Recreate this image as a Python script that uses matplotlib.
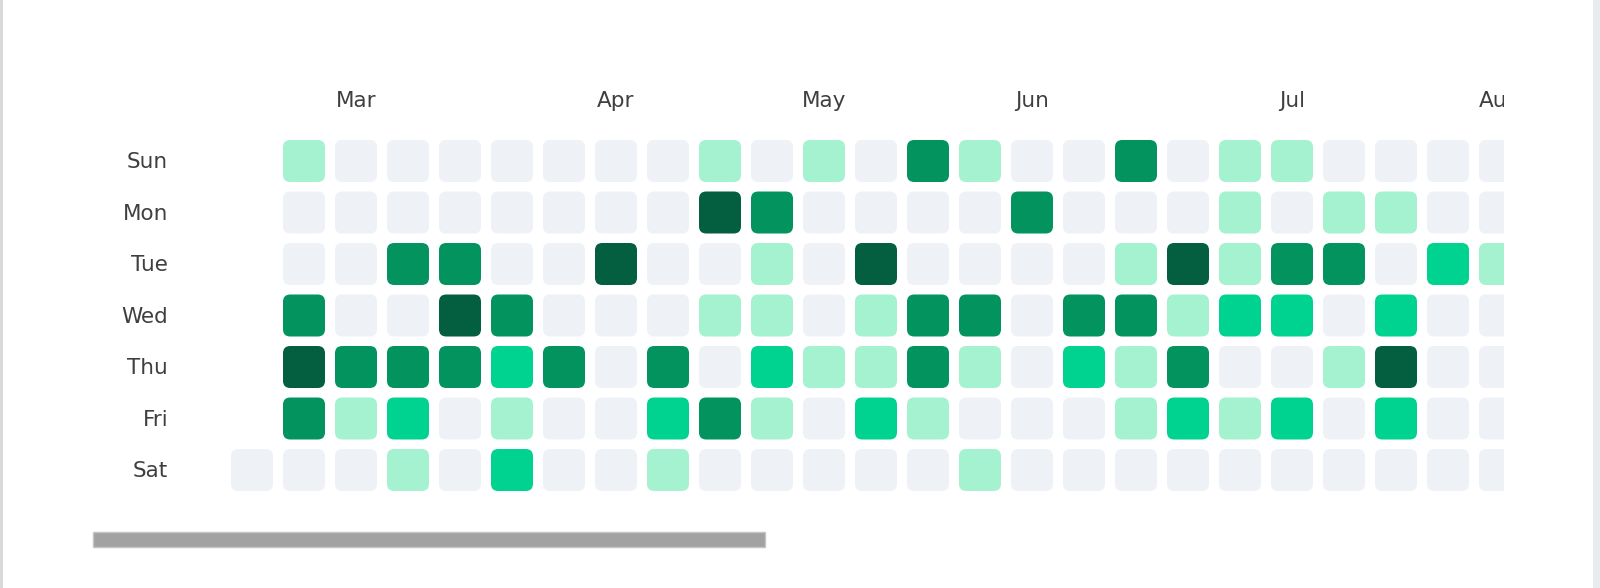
import matplotlib.pyplot as plt
from matplotlib.patches import FancyBboxPatch, Rectangle
import numpy as np

plt.rcParams["font.family"] = ["DejaVu Sans"]

days = ["Sun", "Mon", "Tue", "Wed", "Thu", "Fri", "Sat"]
months = ["Mar", "Apr", "May", "Jun", "Jul", "Aug"]
month_cols = [2, 7, 11, 15, 20, 24]

# activity level per week column (0..24), -1 = no cell
sun = [-1, 1, 0, 0, 0, 0, 0, 0, 0, 1, 0, 1, 0, 3, 1, 0, 0, 3, 0, 1, 1, 0, 0, 0, 0]
mon = [-1, 0, 0, 0, 0, 0, 0, 0, 0, 4, 3, 0, 0, 0, 0, 3, 0, 0, 0, 1, 0, 1, 1, 0, 0]
tue = [-1, 0, 0, 3, 3, 0, 0, 4, 0, 0, 1, 0, 4, 0, 0, 0, 0, 1, 4, 1, 3, 3, 0, 2, 1]
wed = [-1, 3, 0, 0, 4, 3, 0, 0, 0, 1, 1, 0, 1, 3, 3, 0, 3, 3, 1, 2, 2, 0, 2, 0, 0]
thu = [-1, 4, 3, 3, 3, 2, 3, 0, 3, 0, 2, 1, 1, 3, 1, 0, 2, 1, 3, 0, 0, 1, 4, 0, 0]
fri = [-1, 3, 1, 2, 0, 1, 0, 0, 2, 3, 1, 0, 2, 1, 0, 0, 0, 1, 2, 1, 2, 0, 2, 0, 0]
sat = [0, 0, 0, 1, 0, 2, 0, 0, 1, 0, 0, 0, 0, 0, 1, 0, 0, 0, 0, 0, 0, 0, 0, 0, 0]

levels = np.array([sun, mon, tue, wed, thu, fri, sat])
palette = ["#eef2f6", "#a5f2d0", "#00d38f", "#02935f", "#045f41"]

W, H = 1600, 588
fig = plt.figure(figsize=(W / 100, H / 100), dpi=100)

# axes placement in pixels: week k starts at 231 + 52k, row r at 140 + 51.5r
px_col, px_row = 52.0, 51.5
x0, x1 = -0.2, (1504 - 231) / px_col
y0, y1 = -1.5, 7.0
left = 231 + x0 * px_col
top = 140 + y0 * px_row
bottom = 140 + y1 * px_row
ax = fig.add_axes([left / W, 1 - bottom / H, (1504 - left) / W, (bottom - top) / H])
ax.set_xlim(x0, x1)
ax.set_ylim(y1, y0)
ax.axis("off")

cw, ch = 42 / px_col, 42 / px_row
for r in range(levels.shape[0]):
    for c in range(levels.shape[1]):
        lv = levels[r, c]
        if lv < 0:
            continue
        ax.add_patch(FancyBboxPatch((c, r), cw, ch,
                                    boxstyle="round,pad=0,rounding_size=0.14",
                                    fc=palette[lv], ec="none"))

for r, d in enumerate(days):
    ax.text(-1.21, r + ch / 2 + 0.02, d, ha="right", va="center", fontsize=15.5,
            color="#3f3f3f", clip_on=False)

for m, c in zip(months, month_cols):
    ax.text(c + cw / 2, -0.76, m, ha="center", va="center", fontsize=15.5,
            color="#3f3f3f", clip_on=True)

# scrollbar and panel borders
fig.patches.append(Rectangle((93 / W, 1 - 547 / H), (765 - 93) / W, 15 / H,
                             transform=fig.transFigure, fc="#a2a2a2", ec="#c4c4c4", lw=1))
fig.patches.append(Rectangle((0, 0), 3 / W, 1, transform=fig.transFigure,
                             fc="#d9d9d9", ec="none"))
fig.patches.append(Rectangle((1 - 7 / W, 0), 7 / W, 1, transform=fig.transFigure,
                             fc="#e8ebf0", ec="none"))

fig.savefig("out.png", dpi=100)
